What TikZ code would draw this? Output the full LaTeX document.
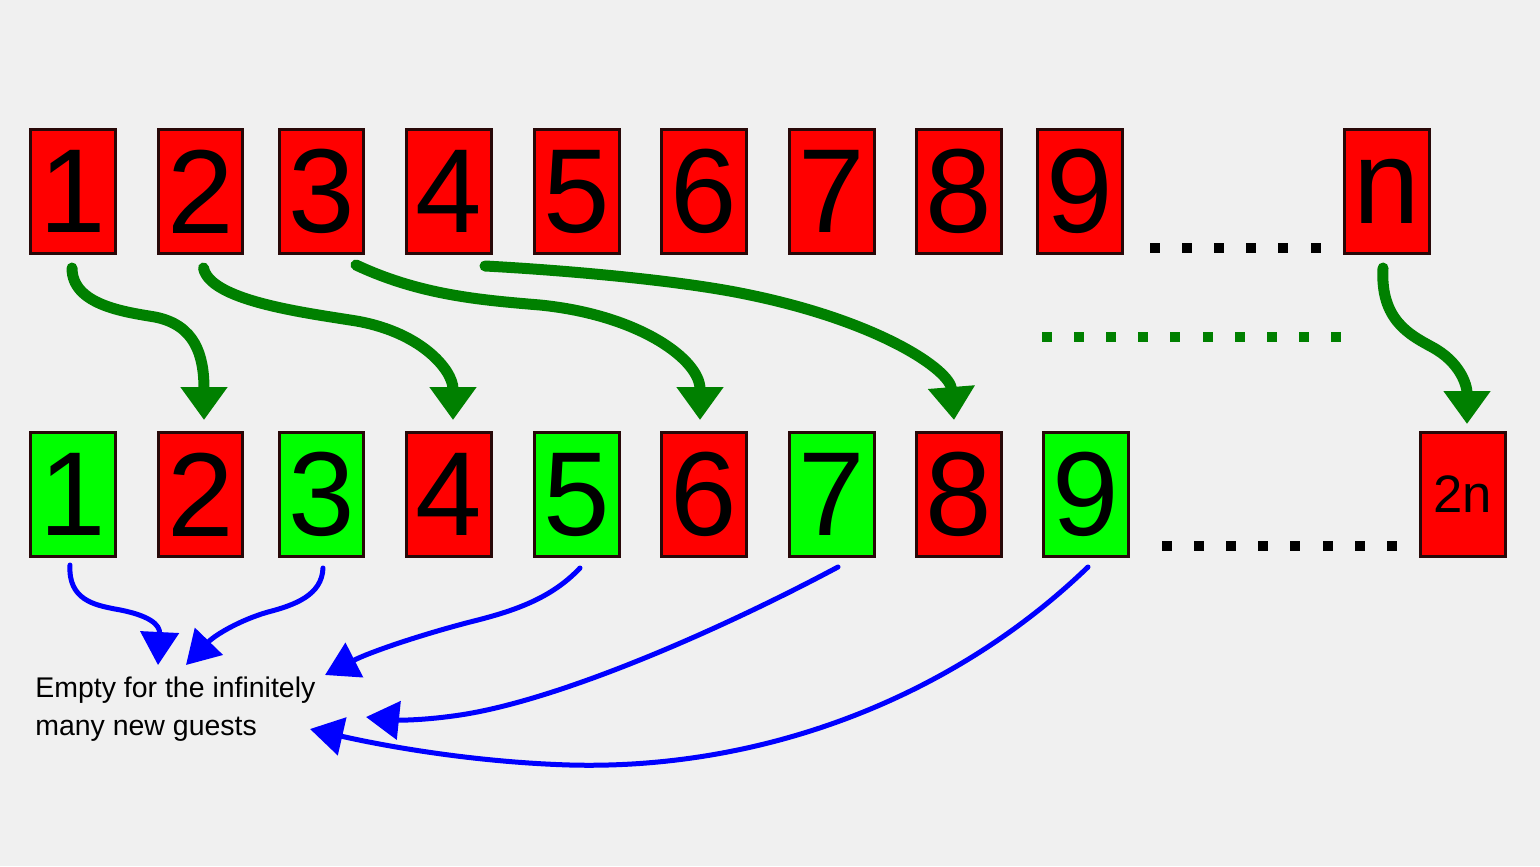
\documentclass[tikz,border=0pt]{standalone}
\usepackage{fontspec}
\setmainfont{Liberation Sans}
\usepackage{tikz}
\usetikzlibrary{arrows.meta,calc,positioning}
\definecolor{roomRed}{RGB}{255,0,0}
\definecolor{roomGreen}{RGB}{0,255,0}
\definecolor{moveGreen}{RGB}{0,128,0}
\definecolor{guestBlue}{RGB}{0,0,255}
\definecolor{roomLine}{RGB}{40,8,8}
\definecolor{hallGrey}{RGB}{240,240,240}
\tikzset{
  room/.style={draw=roomLine, line width=0.06cm, minimum width=1.70cm, minimum height=2.48cm, inner sep=0pt, font=\fontsize{68}{68}\selectfont},
  taken/.style={room, fill=roomRed},      % occupied room
  vacant/.style={room, fill=roomGreen},   % freed room
  moveArrow/.style={-{Triangle[width=0.9cm,length=0.66cm]}, draw=moveGreen, line width=0.22cm, line cap=round},
  guestArrow/.style={-{Triangle[width=0.76cm,length=0.66cm]}, draw=guestBlue, line width=0.1cm, line cap=round}
}
\newcommand{\DotRow}[4]{% #1=colour, #2=first x, #3=y, #4=count
  \foreach \i in {1,...,#4}{%
    \pgfmathsetmacro{\xx}{#2+32.1*(\i-1)}%
    \fill[#1] ({\xx-5},{#3-5}) rectangle ++(10,10);
  }%
}

\begin{document}
\begin{tikzpicture}[x=0.02cm, y=-0.02cm]
  % Background
  \fill[hallGrey] (0,0) rectangle (1540,866);
  \useasboundingbox (0,0) rectangle (1540,866);
  % Rooms before the move
  \foreach \n/\x in {1/73,2/200.5,3/321.5,4/449,5/576.5,6/704,7/831.5,8/958.5,9/1080}
    \node[taken] (t\n) at (\x,191.5) {\n};
  \node[taken] (tn) at (1387,191.5) {n};
  % Rooms after the move
  \foreach \n/\x/\s in {1/73/vacant,2/200.5/taken,3/321.5/vacant,4/449/taken,5/576.5/vacant,6/704/taken,7/831.5/vacant,8/958.5/taken,9/1085.5/vacant}
    \node[\s] (b\n) at (\x,494.5) {\n};
  \node[taken, font=\fontsize{30}{30}\selectfont] (b2n) at (1462.5,494.5) {2n};
  % Dots
  \DotRow{black}{1155}{248}{6}
  \DotRow{moveGreen}{1047}{337}{10}
  \DotRow{black}{1167}{546}{8}
  % Note
  \node[anchor=north west, inner sep=0pt, align=left, font=\fontsize{16.2}{21.5}\selectfont] (empty) at (35,677) {Empty for the infinitely\\many new guests};
  % Guest n moves to room 2n
  \draw[moveArrow] ($(t1.south)+(-1,13)$) .. controls (72,305) and (125,312) .. (155,317) .. controls (195,325) and (204,355) .. ($(b2.north)+(3.5,-11)$);
  \draw[moveArrow] ($(t2.south)+(3,13)$) .. controls (210,300) and (300,312) .. (350,320) .. controls (420,330) and (453,370) .. ($(b4.north)+(4,-11)$);
  \draw[moveArrow] ($(t3.south)+(34.5,10)$) .. controls (420,295) and (480,300) .. (540,305) .. controls (640,315) and (700,360) .. ($(b6.north)+(-4,-11)$);
  \draw[moveArrow] ($(t4.south)+(36,11)$) .. controls (560,270) and (680,280) .. (750,295) .. controls (880,322) and (950,370) .. ($(b8.north)+(-4.5,-11)$);
  \draw[moveArrow] ($(tn.south)+(-4,13)$) .. controls (1380,320) and (1410,335) .. (1432,347) .. controls (1460,362) and (1467,385) .. ($(b2n.north)+(4.5,-7)$);
  % Odd rooms are empty
  \draw[guestArrow] ($(b1.south)+(-3,7)$) .. controls (68,600) and (95,605) .. (115,609) .. controls (150,615) and (160,625) .. ($(empty.north west)+(123,-12)$);
  \draw[guestArrow] ($(b3.south)+(1.5,10)$) .. controls (322,595) and (295,605) .. (268,612) .. controls (240,620) and (215,635) .. ($(empty.north west)+(151,-12)$);
  \draw[guestArrow] ($(b5.south)+(3.5,10)$) .. controls (550,600) and (510,612) .. (470,622) .. controls (420,635) and (370,652) .. ($(empty.north west)+(290,-2)$);
  \draw[guestArrow] ($(b7.south)+(6.5,9)$) .. controls (720,630) and (560,700) .. (460,715) .. controls (420,721) and (395,720) .. ($(empty.north west)+(331,40)$);
  \draw[guestArrow] ($(b9.south)+(2.5,9)$) .. controls (950,700) and (760,770) .. (570,765) .. controls (470,762) and (380,745) .. ($(empty.north west)+(275,52)$);
\end{tikzpicture}
\end{document}
